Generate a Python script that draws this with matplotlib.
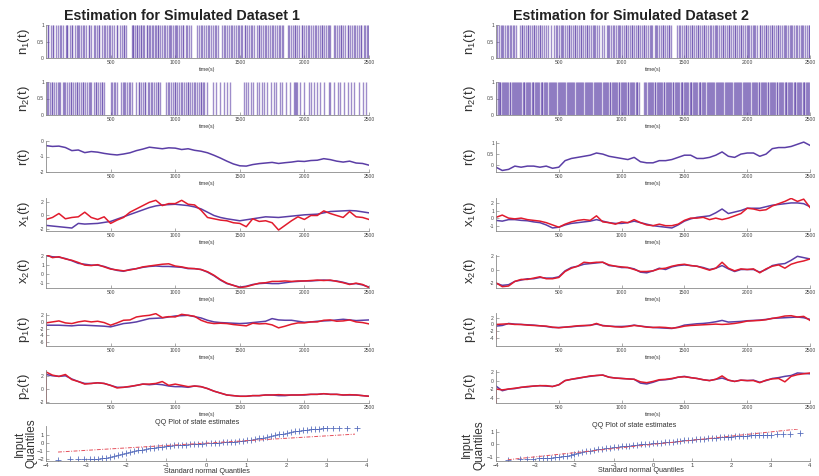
import matplotlib
matplotlib.use('Agg')
import matplotlib.pyplot as plt
import numpy as np

plt.rcParams['font.family'] = ['Liberation Sans', 'DejaVu Sans']
plt.rcParams['mathtext.fontset'] = 'custom'
plt.rcParams['mathtext.rm'] = 'Liberation Sans'

# ---------------- data ----------------
t = np.arange(0, 2501, 50)

# spike times (s)
L_n1 = [12, 18, 40, 55, 58, 75, 96, 112, 115, 130, 152, 160, 163, 182, 200, 204, 221, 238, 247, 252,
        270, 289, 296, 312, 330, 334, 352, 371, 378, 395, 411, 414, 430, 452, 458, 476, 490, 494, 512,
        530, 548, 551, 570, 589, 600, 603, 616, 666, 670, 673, 690, 704, 707, 721, 733, 736, 750, 762,
        778, 781, 795, 808, 824, 827, 840, 852, 866, 870, 884, 900, 916, 919, 933, 950, 962, 966, 980,
        996, 1010, 1013, 1030, 1044, 1058, 1062, 1080, 1094, 1110, 1121, 1170, 1186, 1200, 1204, 1222,
        1240, 1256, 1259, 1276, 1290, 1308, 1312, 1328, 1365, 1380, 1384, 1400, 1418, 1434, 1437, 1452,
        1470, 1486, 1490, 1506, 1520, 1538, 1541, 1556, 1574, 1590, 1594, 1612, 1630, 1646, 1650, 1664,
        1680, 1698, 1701, 1718, 1734, 1750, 1754, 1772, 1790, 1806, 1809, 1824, 1836, 1876, 1880, 1896,
        1912, 1928, 1931, 1946, 1962, 1978, 1982, 1998, 2014, 2030, 2033, 2050, 2066, 2082, 2086, 2102,
        2118, 2134, 2137, 2152, 2170, 2186, 2190, 2200, 2230, 2234, 2250, 2266, 2282, 2286, 2302, 2318,
        2334, 2337, 2354, 2370, 2386, 2390, 2406, 2422, 2438, 2441, 2458, 2472, 2486, 2490, 2498]
L_n2 = [8, 15, 30, 44, 47, 62, 80, 95, 98, 112, 128, 140, 144, 160, 176, 190, 193, 208, 222, 238, 241,
        256, 270, 285, 288, 300, 318, 334, 337, 352, 368, 384, 388, 402, 418, 432, 436, 450, 500, 512,
        528, 531, 546, 580, 596, 600, 614, 630, 646, 649, 664, 700, 716, 719, 734, 750, 766, 770, 786,
        800, 816, 819, 834, 850, 866, 870, 886, 930, 946, 949, 964, 980, 996, 1000, 1016, 1032, 1048,
        1051, 1066, 1082, 1098, 1101, 1116, 1132, 1148, 1151, 1166, 1182, 1198, 1201, 1214, 1222, 1248,
        1295, 1316, 1347, 1378, 1399, 1424, 1533, 1549, 1567, 1585, 1606, 1632, 1645, 1671, 1684, 1709,
        1740, 1761, 1782, 1808, 1826, 1860, 1886, 1917, 1930, 1933, 1943, 1963, 1994, 2033, 2054, 2072,
        2098, 2124, 2155, 2189, 2202, 2227, 2258, 2279, 2305, 2336, 2357, 2383, 2422, 2455, 2473]
R_n1 = [5, 20, 40, 45, 58, 72, 88, 92, 108, 122, 138, 141, 156, 190, 206, 209, 222, 238, 252, 256, 270,
        286, 300, 304, 318, 334, 350, 353, 368, 384, 398, 415, 440, 462, 480, 484, 498, 514, 528, 532,
        546, 562, 578, 581, 596, 612, 626, 630, 644, 660, 676, 679, 694, 710, 724, 728, 742, 758, 774,
        777, 792, 808, 822, 840, 862, 884, 888, 902, 918, 934, 937, 952, 968, 982, 986, 1000, 1016, 1032,
        1035, 1050, 1066, 1080, 1084, 1098, 1114, 1130, 1133, 1148, 1164, 1178, 1182, 1196, 1212, 1228,
        1231, 1246, 1262, 1276, 1280, 1294, 1310, 1326, 1329, 1344, 1360, 1374, 1378, 1392, 1445, 1460,
        1464, 1478, 1494, 1510, 1513, 1528, 1544, 1558, 1562, 1576, 1592, 1608, 1611, 1626, 1642, 1656,
        1660, 1674, 1690, 1706, 1709, 1724, 1740, 1754, 1758, 1772, 1788, 1804, 1807, 1822, 1838, 1852,
        1856, 1870, 1886, 1902, 1905, 1920, 1936, 1950, 1954, 1968, 1984, 2000, 2003, 2018, 2034, 2048,
        2052, 2066, 2082, 2098, 2101, 2116, 2132, 2146, 2150, 2164, 2180, 2196, 2199, 2214, 2230, 2244,
        2248, 2262, 2278, 2294, 2297, 2312, 2328, 2342, 2346, 2360, 2376, 2392, 2395, 2410, 2426, 2440,
        2444, 2458, 2474, 2490, 2493]
R_n2 = [3, 12, 22, 30, 34, 46, 55, 64, 70, 82, 90, 99, 108, 112, 124, 133, 141, 150, 158, 166, 175, 184,
        190, 202, 211, 220, 226, 238, 247, 256, 262, 274, 283, 292, 298, 310, 319, 328, 334, 346, 355,
        364, 370, 382, 391, 400, 406, 418, 427, 436, 442, 454, 463, 472, 478, 490, 499, 508, 514, 526,
        535, 544, 550, 562, 571, 580, 586, 598, 607, 616, 622, 634, 643, 652, 658, 670, 679, 688, 694,
        706, 715, 724, 730, 742, 751, 760, 766, 778, 787, 796, 802, 814, 823, 832, 838, 850, 859, 868,
        874, 886, 895, 904, 910, 922, 931, 940, 946, 958, 967, 976, 982, 994, 1003, 1012, 1018, 1030,
        1039, 1048, 1054, 1066, 1075, 1084, 1090, 1102, 1111, 1120, 1126, 1136, 1180, 1190, 1196, 1208,
        1217, 1226, 1232, 1244, 1253, 1262, 1268, 1280, 1289, 1298, 1304, 1316, 1325, 1334, 1340, 1352,
        1361, 1370, 1376, 1388, 1397, 1406, 1412, 1424, 1433, 1442, 1448, 1460, 1469, 1478, 1484, 1496,
        1505, 1514, 1520, 1532, 1541, 1550, 1556, 1568, 1577, 1586, 1592, 1604, 1613, 1622, 1628, 1640,
        1649, 1658, 1664, 1676, 1685, 1694, 1700, 1712, 1721, 1730, 1736, 1748, 1757, 1766, 1772, 1784,
        1793, 1802, 1808, 1820, 1829, 1838, 1844, 1856, 1865, 1874, 1880, 1892, 1901, 1910, 1916, 1928,
        1937, 1946, 1952, 1964, 1973, 1982, 1988, 2000, 2009, 2018, 2024, 2036, 2045, 2054, 2060, 2072,
        2081, 2090, 2096, 2108, 2117, 2126, 2132, 2144, 2153, 2162, 2168, 2180, 2189, 2198, 2204, 2216,
        2225, 2234, 2240, 2252, 2261, 2270, 2276, 2288, 2297, 2306, 2312, 2324, 2333, 2342, 2348, 2360,
        2369, 2378, 2384, 2396, 2405, 2414, 2420, 2432, 2441, 2450, 2456, 2468, 2477, 2486, 2492]

# dataset 1 traces (true = purple, estimate = red), every 50 s
L_r = [-0.3, -0.35, -0.33, -0.42, -0.62, -0.58, -0.75, -0.68, -0.72, -0.8, -0.86, -0.9, -0.84, -0.76,
       -0.62, -0.52, -0.4, -0.45, -0.5, -0.44, -0.46, -0.55, -0.5, -0.6, -0.66, -0.76, -0.92, -1.1, -1.3,
       -1.48, -1.6, -1.62, -1.52, -1.46, -1.42, -1.38, -1.45, -1.4, -1.36, -1.3, -1.32, -1.26, -1.24,
       -1.14, -1.2, -1.3, -1.36, -1.3, -1.42, -1.45, -1.56]
L_x1 = [-1.5, -1.6, -1.7, -1.8, -1.9, -1.2, -1.3, -1.25, -1.2, -1.05, -0.9, -0.55, -0.2, 0.15, 0.5, 0.85,
        1.2, 1.45, 1.6, 1.65, 1.7, 1.6, 1.5, 1.3, 1.0, 0.5, 0.0, -0.3, -0.5, -0.65, -0.8, -0.65, -0.5,
        -0.35, -0.2, -0.25, -0.3, -0.2, -0.1, 0.0, 0.1, 0.15, 0.2, 0.4, 0.6, 0.65, 0.7, 0.75, 0.7, 0.55, 0.4]
L_x1_est = [-0.6, -0.3, 0.3, -0.5, -0.3, -0.2, 0.5, -0.3, -0.6, -0.2, -1.2, -0.7, -0.3, 0.5, 1.0, 1.5, 2.0,
            2.3, 1.5, 1.8, 1.8, 2.3, 1.7, 1.6, 0.8, -0.3, -0.5, -0.7, -0.8, -1.1, -1.2, -1.7, -0.5, -0.9,
            -0.8, -1.1, -2.2, -1.5, -0.8, -0.2, -0.6, 0.0, 0.0, 0.7, 0.3, 0.0, -0.3, 0.6, -0.2, -0.3, -0.6]
L_x2 = [2.1, 1.95, 1.9, 1.75, 1.5, 1.2, 1.1, 1.0, 1.0, 0.85, 0.6, 0.4, 0.3, 0.5, 0.6, 0.75, 0.85, 0.9,
        0.85, 0.85, 0.8, 0.75, 0.6, 0.6, 0.5, 0.2, -0.2, -0.7, -1.1, -1.3, -1.5, -1.4, -1.2, -1.1, -1.05,
        -1.1, -1.1, -1.0, -0.9, -0.85, -0.8, -0.8, -0.75, -0.7, -0.75, -0.8, -0.95, -1.15, -1.1, -1.25, -1.5]
L_x2_est = [2.2, 1.85, 1.95, 1.7, 1.55, 1.3, 1.0, 0.95, 1.05, 0.8, 0.55, 0.45, 0.35, 0.45, 0.6, 0.8, 0.9,
            1.0, 1.1, 1.15, 0.9, 0.8, 0.65, 0.6, 0.5, 0.25, -0.15, -0.65, -1.05, -1.3, -1.55, -1.45, -1.25,
            -1.05, -1.0, -0.85, -0.85, -0.8, -0.85, -0.8, -0.8, -0.75, -0.7, -0.75, -0.7, -0.85, -1.0,
            -1.2, -1.05, -1.2, -1.55]
L_p1 = [-1.0, -1.0, -1.0, -1.1, -1.2, -1.0, -1.0, -1.1, -1.2, -1.3, -1.5, -1.0, -0.5, -0.3, 0.0, 0.5, 1.0,
        1.1, 1.2, 1.5, 1.8, 1.9, 2.0, 1.6, 1.2, 0.5, 0.0, -0.2, -0.3, -0.4, -0.5, -0.4, -0.2, 0.0, 0.2,
        1.0, 0.6, 0.5, 0.5, 0.2, -0.1, 0.0, 0.2, 0.3, 0.4, 0.6, 0.8, 0.6, 0.4, 0.5, 0.6]
L_p1_init = -7.2
L_p1_est = [-0.3, 0.0, 0.3, -0.3, -0.5, 0.0, 0.3, 0.0, 0.2, -0.2, -1.0, -0.3, 0.5, 0.6, 1.5, 1.8, 2.0, 2.5,
            1.3, 1.6, 1.5, 2.3, 2.0, 1.7, 0.5, -0.2, -0.5, -0.4, -0.5, -0.8, -1.0, -1.2, -0.4, -0.6, -0.5,
            -0.9, -1.8, -1.3, -0.7, -0.3, -0.3, 0.0, 0.0, 0.5, 0.6, 0.2, 0.3, 0.6, 0.0, -0.2, -0.6]
L_p2 = [2.3, 2.1, 2.0, 2.1, 1.6, 1.2, 0.9, 0.9, 1.0, 0.9, 0.6, 0.3, 0.3, 0.4, 0.6, 0.8, 0.7, 0.8, 0.7, 0.5,
        0.4, 0.4, 0.3, 0.5, 0.4, 0.1, -0.3, -0.6, -0.9, -1.0, -1.1, -1.1, -1.0, -1.0, -0.9, -0.9, -1.0,
        -1.0, -0.9, -0.9, -0.9, -0.8, -0.8, -0.7, -0.8, -0.8, -0.9, -0.9, -0.9, -1.0, -1.1]
L_p2_init = -2.0
L_p2_est = [2.7, 2.2, 2.0, 2.3, 1.5, 1.2, 0.8, 0.9, 1.0, 0.9, 0.6, 0.2, 0.3, 0.45, 0.6, 0.8, 0.8, 0.9, 1.2,
            0.6, 0.8, 0.6, 0.4, 0.5, 0.4, 0.1, -0.3, -0.6, -0.9, -1.0, -1.1, -1.1, -1.0, -1.0, -0.9, -0.9,
            -0.85, -0.9, -0.9, -0.9, -0.85, -0.8, -0.8, -0.7, -0.8, -0.8, -0.9, -0.85, -0.9, -1.0, -1.1]

# dataset 2 traces
R_r = [-0.1, -0.25, -0.2, -0.05, -0.1, -0.05, -0.05, -0.1, -0.05, -0.15, -0.1, 0.2, 0.3, 0.35, 0.4, 0.45,
       0.55, 0.5, 0.4, 0.35, 0.3, 0.25, 0.35, 0.15, 0.1, 0.1, 0.2, 0.2, 0.25, 0.35, 0.45, 0.45, 0.3, 0.3,
       0.35, 0.45, 0.6, 0.4, 0.35, 0.5, 0.55, 0.55, 0.4, 0.5, 0.75, 0.8, 0.8, 0.85, 0.95, 1.05, 0.9]
R_x1 = [-0.3, -0.4, -0.2, -0.2, -0.3, -0.35, -0.5, -0.6, -0.9, -1.3, -1.2, -0.9, -0.7, -0.6, -0.5, -0.4,
        -0.2, -0.4, -0.6, -0.7, -0.7, -0.6, -0.4, -0.6, -0.8, -1.0, -1.1, -1.2, -1.3, -0.9, -0.4, -0.1,
        0.1, 0.2, 0.3, 0.7, 1.2, 0.6, 0.8, 1.0, 1.3, 1.3, 1.3, 1.5, 1.7, 1.8, 1.9, 2.0, 2.0, 1.9, 1.5]
R_x1_est = [0.1, 0.4, 0.0, -0.1, 0.0, -0.2, -0.3, -0.4, -0.6, -0.9, -1.2, -0.8, -0.5, -0.3, -0.2, -0.3, 0.3,
            -0.5, -0.6, -0.8, -0.5, -0.6, -0.2, -0.6, -0.9, -1.0, -0.8, -1.0, -1.0, -0.8, -0.3, 0.0, 0.0,
            0.1, -0.2, 0.0, -0.2, 0.0, 0.3, 0.6, 1.3, 1.2, 1.0, 1.1, 1.6, 1.9, 2.2, 2.6, 2.2, 2.5, 1.4]
R_x2 = [-2.1, -2.4, -2.3, -1.8, -1.6, -1.4, -1.4, -1.2, -1.3, -1.3, -1.1, -0.2, 0.3, 0.5, 0.8, 0.9, 1.0,
        1.1, 0.6, 0.5, 0.3, 0.3, 0.1, -0.4, -0.5, -0.2, 0.2, 0.0, 0.4, 0.6, 0.7, 0.6, 0.5, 0.3, 0.0, 0.2,
        0.6, 0.1, -0.3, 0.0, 0.0, 0.0, -0.4, 0.0, 0.6, 0.8, 0.9, 1.4, 2.0, 1.8, 1.6]
R_x2_est = [-2.0, -2.6, -2.5, -1.8, -1.5, -1.5, -1.3, -1.1, -1.4, -1.4, -1.2, -0.3, 0.2, 0.5, 1.1, 1.0, 1.1,
            1.1, 0.7, 0.5, 0.4, 0.3, 0.0, -0.3, -0.3, -0.2, 0.1, 0.2, 0.5, 0.7, 0.8, 0.6, 0.5, 0.2, -0.1,
            0.2, 1.1, 0.2, -0.2, 0.1, 0.0, 0.1, -0.5, 0.1, 0.5, 0.7, 0.2, 0.8, 1.1, 1.3, 1.6]
R_p1 = [-0.5, -0.3, 0.3, 0.1, 0.0, -0.1, -0.2, -0.4, -0.6, -0.9, -0.9, -0.8, -0.7, -0.5, -0.4, -0.2, 0.1,
        -0.3, -0.5, -0.6, -0.6, -0.5, -0.2, -0.5, -0.7, -0.9, -1.0, -1.1, -1.2, -0.8, -0.2, 0.0, 0.2, 0.3,
        0.5, 0.8, 1.2, 0.7, 0.8, 0.9, 1.1, 1.2, 1.3, 1.5, 1.8, 1.9, 2.0, 2.1, 2.2, 2.0, 1.5]
R_p1_init = -4.3
R_p1_est = [0.0, 0.1, 0.2, 0.0, 0.0, -0.2, -0.3, -0.4, -0.5, -0.8, -1.0, -0.8, -0.6, -0.4, -0.3, -0.3, 0.3,
            -0.4, -0.5, -0.7, -0.8, -0.6, -0.3, -0.5, -0.8, -0.9, -0.8, -0.9, -1.1, -0.9, -0.5, -0.3, -0.2,
            -0.1, 0.0, 0.1, 0.0, 0.1, 0.3, 0.6, 1.0, 1.1, 1.2, 1.4, 1.8, 2.1, 2.5, 2.6, 2.2, 2.4, 1.2]
R_p2 = [-1.3, -2.4, -2.0, -1.9, -1.6, -1.5, -1.3, -1.2, -1.3, -1.4, -1.0, 0.0, 0.3, 0.5, 0.8, 1.0, 1.2, 1.3,
        0.8, 0.6, 0.5, 0.4, 0.3, -0.6, -0.8, -0.4, 0.1, 0.2, 0.4, 0.8, 1.0, 0.7, 0.5, 0.2, 0.0, 0.3, 0.6,
        0.1, -0.2, 0.1, 0.0, 0.1, -0.4, 0.0, 0.5, 0.7, 1.0, 1.2, 1.8, 1.7, 1.6]
R_p2_init = -5.2
R_p2_est = [-2.0, -2.2, -2.0, -1.8, -1.6, -1.4, -1.3, -1.2, -1.2, -1.4, -1.0, 0.0, 0.3, 0.6, 0.8, 1.1, 1.2,
            1.3, 0.8, 0.6, 0.5, 0.4, 0.3, -0.3, -0.5, -0.2, 0.2, 0.3, 0.5, 0.8, 0.9, 0.7, 0.5, 0.2, 0.0,
            0.3, 1.1, 0.1, -0.2, 0.1, 0.0, 0.0, -0.5, 0.1, 0.4, 0.5, -0.3, 1.0, 1.4, 1.6, 1.8]

# QQ plots: standard normal quantile vs input quantile
QQ_x = [-3.7, -3.4, -3.2, -3.05, -2.9, -2.8, -2.7, -2.6, -2.5, -2.4, -2.3, -2.2, -2.1, -2.0, -1.9, -1.8,
        -1.7, -1.6, -1.5, -1.4, -1.3, -1.2, -1.1, -1.0, -0.9, -0.8, -0.7, -0.6, -0.5, -0.4, -0.3, -0.2,
        -0.1, 0.0, 0.1, 0.2, 0.3, 0.4, 0.5, 0.6, 0.7, 0.8, 0.9, 1.0, 1.1, 1.2, 1.3, 1.4, 1.5, 1.6, 1.7,
        1.8, 1.9, 2.0, 2.1, 2.2, 2.3, 2.4, 2.5, 2.6, 2.7, 2.8, 2.9, 3.0, 3.15, 3.3, 3.5, 3.75]
L_qq = [-2.02, -2.01, -2.0, -1.99, -1.97, -1.94, -1.9, -1.85, -1.78, -1.68, -1.57, -1.45, -1.32, -1.18,
        -1.06, -0.96, -0.87, -0.79, -0.71, -0.64, -0.57, -0.5, -0.44, -0.38, -0.33, -0.29, -0.25, -0.21,
        -0.18, -0.15, -0.12, -0.09, -0.06, -0.03, 0.0, 0.03, 0.06, 0.09, 0.12, 0.15, 0.19, 0.23, 0.28,
        0.34, 0.41, 0.49, 0.58, 0.67, 0.76, 0.86, 0.96, 1.06, 1.16, 1.26, 1.36, 1.45, 1.53, 1.6, 1.66,
        1.71, 1.75, 1.78, 1.8, 1.82, 1.84, 1.85, 1.86, 1.88]
R_qq = [-1.25, -1.22, -1.2, -1.17, -1.15, -1.12, -1.1, -1.08, -1.05, -1.02, -0.98, -0.93, -0.87, -0.8,
        -0.73, -0.66, -0.59, -0.52, -0.46, -0.41, -0.36, -0.32, -0.28, -0.24, -0.21, -0.18, -0.15, -0.12,
        -0.09, -0.06, -0.03, -0.01, 0.02, 0.05, 0.08, 0.11, 0.14, 0.17, 0.2, 0.23, 0.26, 0.29, 0.32, 0.35,
        0.38, 0.41, 0.44, 0.46, 0.49, 0.51, 0.54, 0.56, 0.58, 0.6, 0.62, 0.64, 0.66, 0.67, 0.69, 0.7, 0.71,
        0.72, 0.73, 0.75, 0.77, 0.79, 0.82, 0.85]
QQ_line_x = [-3.7, 3.7]
L_qq_line = [-1.1, 1.1]
R_qq_line = [-1.25, 1.2]

# ---------------- drawing ----------------
W, H = 820, 476
PURPLE = '#5b3ea6'
SPIKE = '#5e42a8'
RED = '#e11b2d'
QQBLUE = '#3b55b2'
GREY = '#8a8a8a'

fig = plt.figure(figsize=(W / 100, H / 100), dpi=100)


def box(x0, x1, top, bottom):
    return [x0 / W, 1 - bottom / H, (x1 - x0) / W, (bottom - top) / H]


def style(ax, tsize=3.6):
    ax.spines['top'].set_visible(False)
    ax.spines['right'].set_visible(False)
    for s in ['left', 'bottom']:
        ax.spines[s].set_color(GREY)
        ax.spines[s].set_linewidth(0.6)
    ax.tick_params(direction='in', length=2, width=0.5, colors=GREY,
                   labelcolor='#444444', labelsize=tsize, pad=1.5)


def time_axis(ax):
    ax.set_xlim(0, 2500)
    ax.set_xticks([500, 1000, 1500, 2000, 2500])
    ax.set_xlabel('time(s)', fontsize=3.8, color='#333333', labelpad=1.5)


rows = [(25, 58), (82, 115), (141, 172), (198, 231), (255, 288), (313, 346), (370, 403)]
cols = [(46, 369, -0.043), (496, 810, -0.058)]

spikes = [(L_n1, L_n2), (R_n1, R_n2)]
traces = [
    [(L_r, None, None), (L_x1, L_x1_est, None), (L_x2, L_x2_est, None),
     (L_p1, L_p1_est, L_p1_init), (L_p2, L_p2_est, L_p2_init)],
    [(R_r, None, None), (R_x1, R_x1_est, None), (R_x2, R_x2_est, None),
     (R_p1, R_p1_est, R_p1_init), (R_p2, R_p2_est, R_p2_init)],
]
ylims = [
    [(-2, 0), (-2.35, 2.65), (-1.6, 2.15), (-7.3, 2.7), (-2.15, 3.0)],
    [(-0.32, 1.1), (-1.7, 2.65), (-2.8, 2.2), (-6.4, 3.4), (-5.3, 2.5)],
]
yticks = [
    [[-2, -1, 0], [-2, 0, 2], [-1, 0, 1, 2], [-6, -4, -2, 0, 2], [-2, 0, 2]],
    [[0, 0.5, 1], [-1, 0, 1, 2], [-2, 0, 2], [-4, -2, 0, 2], [-4, -2, 0, 2]],
]
spike_labels = [r'$\mathrm{n_1(t)}$', r'$\mathrm{n_2(t)}$']
trace_labels = [r'$\mathrm{r(t)}$', r'$\mathrm{x_1(t)}$', r'$\mathrm{x_2(t)}$',
                r'$\mathrm{p_1(t)}$', r'$\mathrm{p_2(t)}$']

for c, (x0, x1, labx) in enumerate(cols):
    for k in range(2):
        ax = fig.add_axes(box(x0, x1, *rows[k]))
        ax.vlines(spikes[c][k], 0, 1, color=SPIKE, lw=1.0, alpha=0.6)
        style(ax)
        time_axis(ax)
        ax.set_ylim(0, 1)
        ax.set_yticks([0, 0.5, 1])
        ax.set_yticklabels(['0', '0.5', '1'])
        ax.set_ylabel(spike_labels[k], fontsize=9.5, color='#333333')
        ax.yaxis.set_label_coords(labx, 0.5)
    for k in range(5):
        true, est, init = traces[c][k]
        ax = fig.add_axes(box(x0, x1, *rows[k + 2]))
        ax.plot(t, true, color=PURPLE, lw=1.1)
        if est is not None:
            if init is not None:
                ax.plot(np.r_[0, t], np.r_[init, est], color=RED, lw=1.1)
            else:
                ax.plot(t, est, color=RED, lw=1.1)
        style(ax)
        time_axis(ax)
        ax.set_ylim(*ylims[c][k])
        ax.set_yticks(yticks[c][k])
        ax.set_yticklabels([('%g' % v) for v in yticks[c][k]])
        ax.set_ylabel(trace_labels[k], fontsize=9.5, color='#333333')
        ax.yaxis.set_label_coords(labx, 0.5)

# QQ plots
qq_cfg = [(46, 367, 426, L_qq, L_qq_line, (-2.2, 2.1), [-2, -1, 0, 1], -0.025, 0.47, 0.5),
          (496, 810, 429, R_qq, R_qq_line, (-1.35, 1.2), [-1, 0, 1], -0.035, 0.44, 0.46)]
for x0, x1, top, qq, qline, ylim, yt, labx, tx, lx in qq_cfg:
    ax = fig.add_axes(box(x0, x1, top, 461))
    ax.plot(QQ_x, qq, '+', color=QQBLUE, ms=5, mew=0.6, alpha=0.85)
    ax.plot(QQ_line_x, qline, color='#e5505c', lw=0.7, ls=(0, (4, 1.5, 1, 1.5)))
    style(ax, tsize=4.2)
    ax.set_xlim(-4, 4)
    ax.set_xticks(range(-4, 5))
    ax.set_ylim(*ylim)
    ax.set_yticks(yt)
    ax.set_title('QQ Plot of state estimates', fontsize=5.2, color='#333333', pad=1.5, x=tx)
    ax.set_xlabel('Standard normal Quantiles', fontsize=5.2, color='#333333', labelpad=0.5)
    ax.xaxis.set_label_coords(lx, -0.2)
    ax.set_ylabel('Input\nQuantiles', fontsize=8.5, color='#333333', linespacing=1.0)
    ax.yaxis.set_label_coords(labx, 0.5)

fig.text(182 / W, 1 - 16 / H, 'Estimation for Simulated Dataset 1', fontsize=10.3,
         fontweight='bold', ha='center', va='center', color='#222222')
fig.text(631 / W, 1 - 16 / H, 'Estimation for Simulated Dataset 2', fontsize=10.3,
         fontweight='bold', ha='center', va='center', color='#222222')

fig.savefig('out.png', dpi=100)
